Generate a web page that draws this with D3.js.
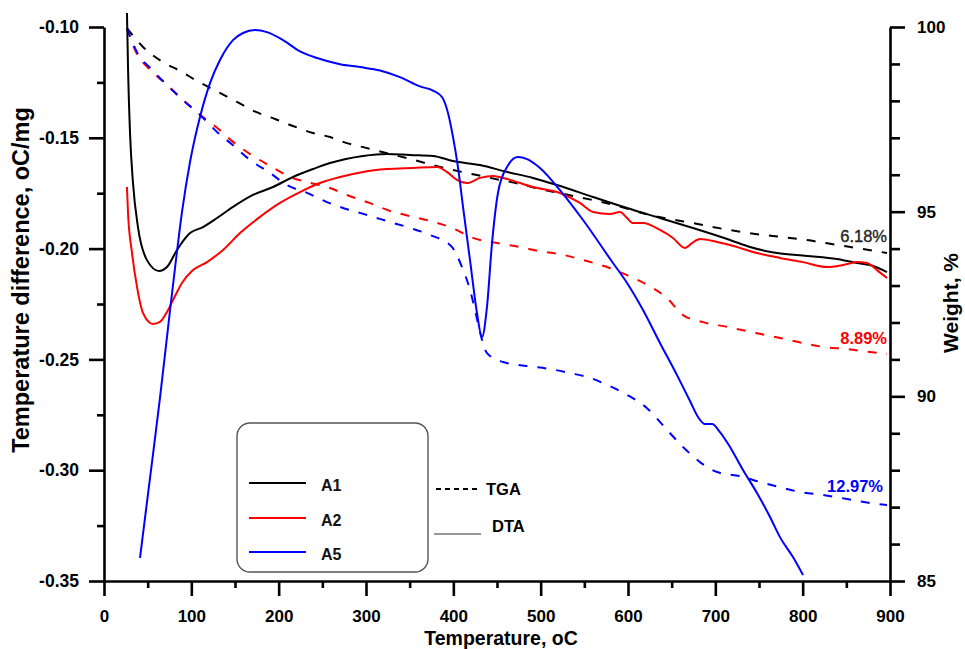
<!DOCTYPE html>
<html><head><meta charset="utf-8">
<script src="https://cdn.jsdelivr.net/npm/d3@7"></script>
<style>
body{margin:0;background:#fff}
svg{display:block}
text{font-family:"Liberation Sans",Arial,Helvetica,sans-serif}
</style>
</head><body>
<svg id="chart" width="965" height="649"></svg>
<script>
// ---------- data ----------
const xTicks = [0,100,200,300,400,500,600,700,800,900];
const xMinorTicks = [50,150,250,350,450,550,650,750,850];
const leftTicks = [-0.35,-0.30,-0.25,-0.20,-0.15,-0.10];
const leftMinorTicks = [-0.325,-0.275,-0.225,-0.175,-0.125];
const rightTicks = [85,90,95,100];
const rightMinorTicks = [86,87,88,89,91,92,93,94,96,97,98,99];
const seriesNames = ["A1","A2","A5"];
const seriesColors = ["#000000","#ff0000","#0000ff"];
const lossLabels = ["6.18%","8.89%","12.97%"];
const axisTitles = ["Temperature, oC","Temperature difference, oC/mg","Weight, %"];
const styleNames = ["TGA","DTA"];

// DTA (left axis) [temperature, oC/mg]
const dtaA1 = [[26.3,-0.0937],[27.5,-0.1181],[29.8,-0.1478],[33.2,-0.1704],[38.9,-0.1903],[49.2,-0.2052],[63.0,-0.2101],[72.1,-0.2083],[83.6,-0.2006],[98.5,-0.1930],[113.4,-0.1903],[129.4,-0.1862],[147.7,-0.1812],[170.6,-0.1758],[193.5,-0.1722],[216.4,-0.1677],[239.3,-0.1641],[258.8,-0.1614],[296.6,-0.1582],[324.0,-0.1573],[350.4,-0.1578],[376.7,-0.1582],[399.6,-0.1605],[430.5,-0.1623],[461.5,-0.1654],[491.2,-0.1681],[518.7,-0.1713],[559.9,-0.1767],[598.9,-0.1817],[636.6,-0.1862],[674.4,-0.1907],[716.8,-0.1961],[739.7,-0.1993],[770.6,-0.2020],[805.0,-0.2033],[839.3,-0.2047],[862.2,-0.2065],[877.1,-0.2074],[896.6,-0.2106]];
const dtaA2 = [[26.3,-0.1722],[27.5,-0.1839],[32.1,-0.2020],[37.8,-0.2173],[44.7,-0.2291],[56.1,-0.2340],[64.1,-0.2331],[72.1,-0.2286],[79.0,-0.2232],[89.3,-0.2155],[101.9,-0.2097],[117.9,-0.2061],[136.3,-0.2006],[155.7,-0.1930],[178.6,-0.1857],[201.5,-0.1794],[224.4,-0.1745],[247.3,-0.1704],[270.2,-0.1677],[296.6,-0.1654],[324.0,-0.1641],[353.8,-0.1636],[381.3,-0.1632],[392.7,-0.1654],[404.2,-0.1690],[415.6,-0.1704],[430.5,-0.1681],[445.4,-0.1672],[464.9,-0.1690],[491.2,-0.1722],[522.1,-0.1749],[545.0,-0.1794],[559.9,-0.1835],[579.4,-0.1844],[590.8,-0.1835],[598.9,-0.1862],[605.7,-0.1885],[617.2,-0.1885],[636.6,-0.1916],[651.5,-0.1952],[665.3,-0.1997],[673.3,-0.1975],[682.4,-0.1957],[701.9,-0.1970],[716.8,-0.1984],[747.7,-0.2020],[774.0,-0.2042],[800.4,-0.2061],[827.9,-0.2083],[846.2,-0.2074],[862.2,-0.2061],[873.7,-0.2065],[885.1,-0.2097],[896.6,-0.2133]];
const dtaA5 = [[41.2,-0.3396],[52.7,-0.3035],[64.1,-0.2674],[73.3,-0.2358],[81.3,-0.2088],[89.3,-0.1835],[98.5,-0.1609],[109.9,-0.1406],[121.4,-0.1253],[132.8,-0.1149],[147.7,-0.1059],[159.2,-0.1027],[172.9,-0.1014],[186.6,-0.1023],[205.0,-0.1059],[224.4,-0.1110],[243.9,-0.1140],[270.2,-0.1168],[293.1,-0.1181],[316.0,-0.1196],[338.9,-0.1226],[361.8,-0.1268],[376.7,-0.1287],[387.0,-0.1316],[393.9,-0.1388],[399.6,-0.1496],[405.3,-0.1632],[411.1,-0.1812],[419.1,-0.2052],[427.1,-0.2291],[432.8,-0.2399],[438.5,-0.2264],[444.3,-0.1975],[451.1,-0.1749],[461.5,-0.1632],[474.0,-0.1587],[484.4,-0.1596],[499.2,-0.1636],[522.1,-0.1736],[548.5,-0.1871],[582.8,-0.2065],[598.9,-0.2155],[617.2,-0.2277],[636.6,-0.2426],[656.1,-0.2571],[671.0,-0.2688],[680.2,-0.2760],[688.2,-0.2792],[696.2,-0.2792],[705.3,-0.2828],[716.8,-0.2895],[731.7,-0.2999],[747.7,-0.3103],[762.6,-0.3211],[774.0,-0.3302],[788.9,-0.3392],[800.4,-0.3473]];

// TGA (right axis) [temperature, weight %]
const tgaA1 = [[26.3,99.97],[44.7,99.46],[65.3,99.08],[87.0,98.81],[108.8,98.51],[130.5,98.24],[152.3,97.97],[174.0,97.70],[195.8,97.51],[216.4,97.32],[239.3,97.13],[258.8,97.02],[273.7,96.89],[301.1,96.72],[327.5,96.56],[350.4,96.43],[376.7,96.26],[399.6,96.13],[427.1,95.99],[453.4,95.86],[476.3,95.75],[499.2,95.61],[522.1,95.50],[548.5,95.37],[576.0,95.23],[625.2,94.91],[648.1,94.80],[674.4,94.69],[716.8,94.50],[747.7,94.39],[777.5,94.31],[805.0,94.23],[839.3,94.10],[869.1,93.99],[896.6,93.88]];
const tgaA2 = [[26.3,99.97],[35.5,99.38],[52.7,98.84],[69.9,98.48],[89.3,98.05],[107.6,97.67],[129.4,97.27],[147.7,96.89],[167.2,96.56],[190.1,96.24],[213.0,95.94],[235.9,95.78],[258.8,95.64],[278.2,95.45],[304.6,95.23],[327.5,95.02],[350.4,94.88],[373.3,94.75],[398.5,94.56],[422.5,94.29],[450.0,94.15],[476.3,94.04],[499.2,93.93],[522.1,93.85],[548.5,93.69],[576.0,93.50],[598.9,93.28],[622.9,93.01],[644.7,92.66],[663.0,92.20],[685.9,92.01],[713.4,91.88],[747.7,91.71],[774.0,91.58],[800.4,91.44],[823.3,91.34],[850.8,91.28],[877.1,91.20],[896.6,91.15]];
const tgaA5 = [[26.3,99.97],[37.8,99.32],[55.0,98.84],[72.1,98.43],[90.5,98.02],[109.9,97.62],[129.4,97.16],[147.7,96.80],[167.2,96.40],[190.1,96.05],[209.5,95.72],[232.4,95.51],[255.3,95.26],[273.7,95.10],[301.1,94.91],[327.5,94.72],[350.4,94.56],[373.3,94.37],[398.5,94.04],[409.9,93.50],[419.1,92.88],[424.8,92.34],[430.5,91.74],[438.5,91.17],[456.9,90.93],[484.4,90.82],[510.7,90.74],[533.6,90.63],[556.5,90.50],[576.0,90.31],[598.9,90.04],[621.8,89.68],[644.7,89.09],[663.0,88.63],[682.4,88.22],[701.9,87.95],[728.3,87.84],[751.1,87.68],[774.0,87.54],[797.0,87.41],[823.3,87.33],[850.8,87.22],[877.1,87.11],[896.6,87.06]];

const dtaSeries = [dtaA1, dtaA2, dtaA5];
const tgaSeries = [tgaA1, tgaA2, tgaA5];

// ---------- layout ----------
const svg = d3.select("#chart");
const L = 104, R = 890, T = 27, B = 581;
const x = d3.scaleLinear().domain([0,900]).range([L,R]);
const yL = d3.scaleLinear().domain([-0.35,-0.10]).range([B,T]);
const yR = d3.scaleLinear().domain([85,100]).range([B,T]);

const fmt2 = d => d.toFixed(2);

function styleAxis(g, fs){
  g.selectAll("path.domain").attr("stroke","#000").attr("stroke-width",2.6);
  g.selectAll(".tick line").attr("stroke","#000").attr("stroke-width",2.6);
  g.selectAll(".tick text").attr("fill","#000").style("font-size",fs+"px").style("font-weight","bold")
   .style("font-family",'"Liberation Sans",Arial,sans-serif');
}

// minor ticks
svg.append("g").attr("transform",`translate(0,${B})`)
  .call(d3.axisBottom(x).tickValues(xMinorTicks).tickSize(7).tickFormat(""))
  .call(g=>{g.select(".domain").remove(); styleAxis(g,17);});
svg.append("g").attr("transform",`translate(${L},0)`)
  .call(d3.axisLeft(yL).tickValues(leftMinorTicks).tickSize(7).tickFormat(""))
  .call(g=>{g.select(".domain").remove(); styleAxis(g,17);});
svg.append("g").attr("transform",`translate(${R},0)`)
  .call(d3.axisRight(yR).tickValues(rightMinorTicks).tickSize(10).tickFormat(""))
  .call(g=>{g.select(".domain").remove(); styleAxis(g,17);});

// major axes
svg.append("g").attr("transform",`translate(0,${B})`)
  .call(d3.axisBottom(x).tickValues(xTicks).tickSize(15).tickSizeOuter(0).tickPadding(14).tickFormat(d3.format("d")))
  .call(g=>styleAxis(g,17));
svg.append("g").attr("transform",`translate(${L},0)`)
  .call(d3.axisLeft(yL).tickValues(leftTicks).tickSize(15).tickSizeOuter(0).tickPadding(10).tickFormat(fmt2))
  .call(g=>styleAxis(g,17.5));
svg.append("g").attr("transform",`translate(${R},0)`)
  .call(d3.axisRight(yR).tickValues(rightTicks).tickSize(15).tickSizeOuter(0).tickPadding(12).tickFormat(d3.format("d")))
  .call(g=>styleAxis(g,17));

// axis titles
svg.append("text").attr("x",(L+R)/2+4).attr("y",645).attr("text-anchor","middle")
  .style("font-size","19.5px").style("font-weight","bold").text(axisTitles[0]);
svg.append("text").attr("transform",`translate(29,280) rotate(-90)`).attr("text-anchor","middle")
  .style("font-size","23.5px").style("font-weight","bold").text(axisTitles[1]);
svg.append("text").attr("transform",`translate(958,${(T+B)/2-1}) rotate(-90)`).attr("text-anchor","middle")
  .style("font-size","21px").style("font-weight","bold").text(axisTitles[2]);

// legend box
const lg = svg.append("g");
lg.append("rect").attr("x",237).attr("y",423).attr("width",191).attr("height",149).attr("rx",13)
  .attr("fill","#fff").attr("stroke","#555").attr("stroke-width",1.4);
const legY = [483,518,552];
seriesNames.forEach((n,i)=>{
  lg.append("line").attr("x1",249).attr("x2",306).attr("y1",legY[i]).attr("y2",legY[i])
    .attr("stroke",seriesColors[i]).attr("stroke-width",2);
  lg.append("text").attr("x",321).attr("y",legY[i]+8).style("font-size","16px").style("font-weight","bold")
    .attr("fill","#111").text(n);
});
lg.append("line").attr("x1",436).attr("x2",481).attr("y1",489).attr("y2",489)
  .attr("stroke","#000").attr("stroke-width",2).attr("stroke-dasharray","5,4");
lg.append("text").attr("x",486).attr("y",495).style("font-size","16.5px").style("font-weight","bold").text(styleNames[0]);
lg.append("line").attr("x1",434).attr("x2",481).attr("y1",534).attr("y2",534)
  .attr("stroke","#333").attr("stroke-width",1.2);
lg.append("text").attr("x",492).attr("y",532).style("font-size","16.5px").style("font-weight","bold").text(styleNames[1]);

// curves
const lineL = d3.line().x(d=>x(d[0])).y(d=>yL(d[1])).curve(d3.curveMonotoneX);
const lineR = d3.line().x(d=>x(d[0])).y(d=>yR(d[1])).curve(d3.curveMonotoneX);

tgaSeries.forEach((s,i)=>{
  svg.append("path").datum(s).attr("d",lineR).attr("fill","none")
    .attr("stroke",seriesColors[i]).attr("stroke-width",2).attr("stroke-dasharray","9,10");
});
dtaSeries.forEach((s,i)=>{
  svg.append("path").datum(s).attr("d",lineL).attr("fill","none")
    .attr("stroke",seriesColors[i]).attr("stroke-width",2);
});

// loss annotations
const lossOffsets = [-11,-10,-13];
const lossWeights = ["normal","bold","bold"];
const lossColors = ["#222","#ff0000","#0000ff"];
tgaSeries.forEach((s,i)=>{
  const last = s[s.length-1];
  svg.append("text").attr("x",x(last[0])+(i===2?-4:0)).attr("y",yR(last[1])+lossOffsets[i])
    .attr("text-anchor","end").style("font-size","16.5px").style("font-weight",lossWeights[i])
    .attr("fill",lossColors[i]).attr("stroke",i===0?"#222":"none").attr("stroke-width",0.35)
    .text(lossLabels[i]);
});
</script>
</body></html>
